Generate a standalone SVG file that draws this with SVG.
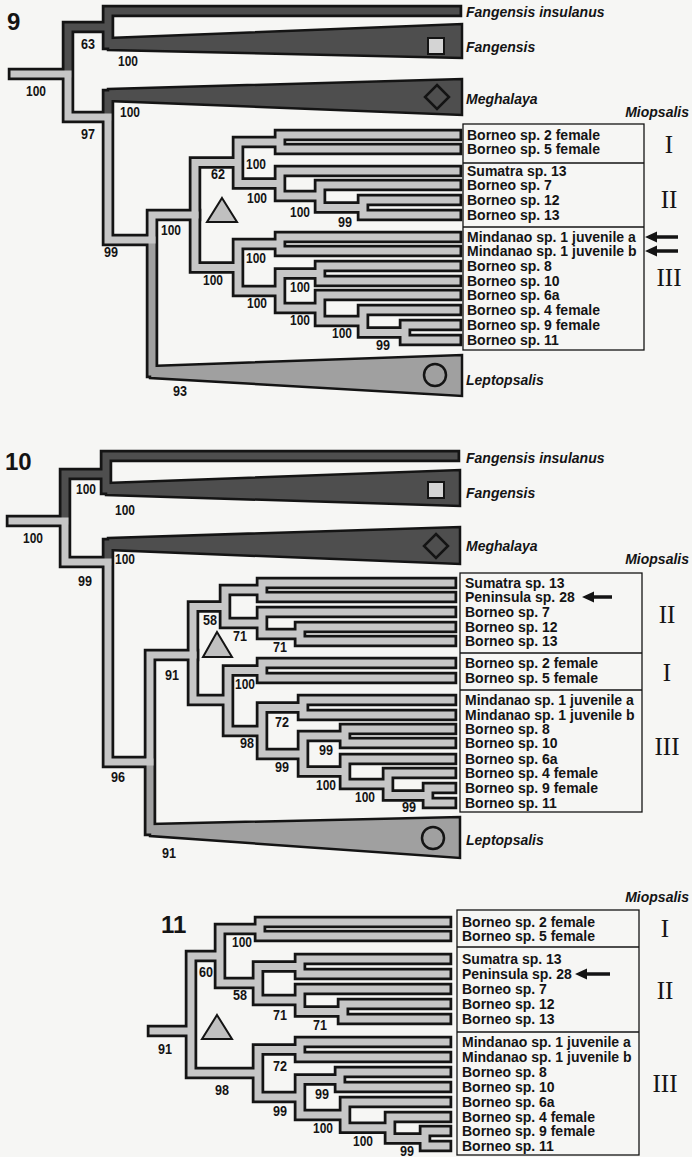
<svg xmlns="http://www.w3.org/2000/svg" width="692" height="1157" viewBox="0 0 692 1157">
<style>
.k{fill:none;stroke:#141414;stroke-width:12.5;stroke-linecap:square;stroke-linejoin:miter}
.l{fill:none;stroke:#c6c6c6;stroke-width:7;stroke-linecap:square;stroke-linejoin:miter}
.d{fill:none;stroke:#4e4e4e;stroke-width:7;stroke-linecap:square;stroke-linejoin:miter}
.m{fill:none;stroke:#a0a0a0;stroke-width:7;stroke-linecap:square;stroke-linejoin:miter}
.wd{fill:#4e4e4e;stroke:#141414;stroke-width:2.5;stroke-linejoin:miter}
.wm{fill:#a0a0a0;stroke:#141414;stroke-width:2.5;stroke-linejoin:miter}
.ic{fill:none;stroke:#141414;stroke-width:2.5}
.sq{fill:#d4d4d4;stroke:#141414;stroke-width:2}
.tri{fill:#c0c0c0;stroke:#141414;stroke-width:2;stroke-linejoin:miter}
.lf{font-family:'Liberation Sans',Arial,sans-serif;font-weight:bold;font-size:14px;fill:#141414}
.bs{font-family:'Liberation Sans',Arial,sans-serif;font-weight:bold;font-size:14.5px;fill:#141414;text-anchor:middle}
.tx{font-family:'Liberation Sans',Arial,sans-serif;font-weight:bold;font-style:italic;font-size:14px;fill:#141414}
.pn{font-family:'Liberation Sans',Arial,sans-serif;font-weight:bold;font-size:24px;fill:#141414}
.rn{font-family:'Liberation Serif','Times New Roman',serif;font-size:25px;fill:#141414;text-anchor:middle}
.box{fill:none;stroke:#141414;stroke-width:1.3}
.ar{fill:#141414}
</style>
<rect width="692" height="1157" fill="#f6f6f4"/>

<!-- ================= PANEL 9 ================= -->
<g id="panel9">
<text class="pn" x="7" y="30">9</text>
<g id="connectors-9">
<path class="k" d="M14,74 H68 M108,27 H68 V117 H108 M456,11 H108 V44 H130 M130,95 H108 V240 H152 M195,215 H152 V372 H175"/>
<path class="k" d="M238,162.5 H195 V267.5 H238 M280,142 H238 V183.5 H280 M456,135 H280 V149 H456 M456,171 H280 V196 H320 M456,185 H320 V207.5 H363 M456,200 H363 V215 H456 M280,244 H238 V291 H280 M456,237 H280 V251 H456 M320,273.5 H280 V308 H320 M456,266 H320 V281 H456 M456,295 H320 V321 H363 M456,310 H363 V332.5 H405 M456,325 H405 V340 H456"/>
<polygon class="wd" points="108,38 462,24 462,58 108,50"/>
<polygon class="wd" points="108,89 462,79 462,115 108,101"/>
<polygon class="wm" points="150,366 462,355 462,396 150,378"/>
<path class="d" d="M108,27 H68 V74 M456,11 H108 V44 H125 M125,95 H108 V117"/>
<path class="m" d="M152,240 V372 H172"/>
<path class="l" d="M14,74 H68 M68,74 V117 H108 M108,117 V240 H152 M195,215 H152 V240"/>
<path class="l" d="M238,162.5 H195 V267.5 H238 M280,142 H238 V183.5 H280 M456,135 H280 V149 H456 M456,171 H280 V196 H320 M456,185 H320 V207.5 H363 M456,200 H363 V215 H456 M280,244 H238 V291 H280 M456,237 H280 V251 H456 M320,273.5 H280 V308 H320 M456,266 H320 V281 H456 M456,295 H320 V321 H363 M456,310 H363 V332.5 H405 M456,325 H405 V340 H456"/>
</g>
<g id="icons-9">
<rect class="sq" x="428" y="38" width="16" height="16"/>
<path class="ic" d="M437,85 L449,97 L437,109 L425,97 Z"/>
<circle class="ic" cx="435" cy="375" r="11"/>
<polygon class="tri" points="222,198 237,222 207,222"/>
</g>
<g id="support-9">
<text class="bs" x="36" y="96" textLength="20" lengthAdjust="spacingAndGlyphs">100</text>
<text class="bs" x="88" y="49" textLength="14" lengthAdjust="spacingAndGlyphs">63</text>
<text class="bs" x="128" y="66" textLength="20" lengthAdjust="spacingAndGlyphs">100</text>
<text class="bs" x="88" y="139" textLength="14" lengthAdjust="spacingAndGlyphs">97</text>
<text class="bs" x="130" y="117" textLength="20" lengthAdjust="spacingAndGlyphs">100</text>
<text class="bs" x="218" y="179" textLength="14" lengthAdjust="spacingAndGlyphs">62</text>
<text class="bs" x="171" y="235" textLength="20" lengthAdjust="spacingAndGlyphs">100</text>
<text class="bs" x="256" y="169" textLength="20" lengthAdjust="spacingAndGlyphs">100</text>
<text class="bs" x="257" y="203" textLength="20" lengthAdjust="spacingAndGlyphs">100</text>
<text class="bs" x="300" y="217" textLength="20" lengthAdjust="spacingAndGlyphs">100</text>
<text class="bs" x="345" y="227" textLength="14" lengthAdjust="spacingAndGlyphs">99</text>
<text class="bs" x="256" y="263" textLength="20" lengthAdjust="spacingAndGlyphs">100</text>
<text class="bs" x="213" y="285" textLength="20" lengthAdjust="spacingAndGlyphs">100</text>
<text class="bs" x="300" y="292" textLength="20" lengthAdjust="spacingAndGlyphs">100</text>
<text class="bs" x="257" y="308" textLength="20" lengthAdjust="spacingAndGlyphs">100</text>
<text class="bs" x="300" y="325" textLength="20" lengthAdjust="spacingAndGlyphs">100</text>
<text class="bs" x="342" y="338" textLength="20" lengthAdjust="spacingAndGlyphs">100</text>
<text class="bs" x="383" y="350" textLength="14" lengthAdjust="spacingAndGlyphs">99</text>
<text class="bs" x="111" y="257" textLength="14" lengthAdjust="spacingAndGlyphs">99</text>
<text class="bs" x="180" y="396" textLength="14" lengthAdjust="spacingAndGlyphs">93</text>
</g>
<g id="taxa-9">
<text class="tx" x="466" y="17">Fangensis insulanus</text>
<text class="tx" x="466" y="52">Fangensis</text>
<text class="tx" x="466" y="104">Meghalaya</text>
<text class="tx" x="689" y="117" text-anchor="end">Miopsalis</text>
<text class="tx" x="466" y="385">Leptopsalis</text>
</g>
<g id="boxes-9">
<rect class="box" x="463" y="124" width="181" height="226"/>
<path class="box" d="M463,163 H644 M463,227 H644"/>
<text class="rn" x="669" y="153">I</text>
<text class="rn" x="669" y="208">II</text>
<text class="rn" x="669" y="286">III</text>
<path class="ar" d="M645,237 l12,-5.5 v3.8 h21 v3.4 h-21 v3.8 z"/>
<path class="ar" d="M645,251 l12,-5.5 v3.8 h21 v3.4 h-21 v3.8 z"/>
</g>
<g id="leaves-9" class="lf">
<text x="467" y="140">Borneo sp. 2 female</text>
<text x="467" y="154">Borneo sp. 5 female</text>
<text x="467" y="176">Sumatra sp. 13</text>
<text x="467" y="190">Borneo sp. 7</text>
<text x="467" y="205">Borneo sp. 12</text>
<text x="467" y="220">Borneo sp. 13</text>
<text x="467" y="242">Mindanao sp. 1 juvenile a</text>
<text x="467" y="256">Mindanao sp. 1 juvenile b</text>
<text x="467" y="271">Borneo sp. 8</text>
<text x="467" y="286">Borneo sp. 10</text>
<text x="467" y="300">Borneo sp. 6a</text>
<text x="467" y="315">Borneo sp. 4 female</text>
<text x="467" y="330">Borneo sp. 9 female</text>
<text x="467" y="345">Borneo sp. 11</text>
</g>
</g>

<!-- ================= PANEL 10 ================= -->
<g id="panel10">
<text class="pn" x="5" y="470">10</text>
<g id="connectors-10">
<path class="k" d="M12,521 H65 M106,474 H65 V562 H108 M454,456 H106 V489 H128 M130,544 H108 V762 H150 M193,655 H150 V830 H172"/>
<path class="k" d="M225,606.5 H193 V700 H228 M262,590 H225 V623 H262 M451,583 H262 V597 H451 M451,612 H262 V634 H300 M451,627 H300 V641 H451 M262,670.5 H228 V731 H262 M451,663 H262 V678 H451 M303,707.5 H262 V754 H303 M451,700 H303 V715 H451 M345,736 H303 V771.5 H345 M451,729 H345 V743 H451 M451,759 H345 V784 H388 M451,773 H388 V795.5 H428 M451,788 H428 V803 H451"/>
<polygon class="wd" points="106,483 460,470 460,506 106,495"/>
<polygon class="wd" points="108,538 460,527 460,564 108,550"/>
<polygon class="wm" points="150,824 460,817 460,858 150,836"/>
<path class="d" d="M106,474 H65 V521 M454,456 H106 V489 H123 M123,544 H108 V562"/>
<path class="m" d="M150,762 V830 H168"/>
<path class="l" d="M12,521 H65 M65,521 V562 H108 M108,562 V762 H150 M193,655 H150 V762"/>
<path class="l" d="M225,606.5 H193 V700 H228 M262,590 H225 V623 H262 M451,583 H262 V597 H451 M451,612 H262 V634 H300 M451,627 H300 V641 H451 M262,670.5 H228 V731 H262 M451,663 H262 V678 H451 M303,707.5 H262 V754 H303 M451,700 H303 V715 H451 M345,736 H303 V771.5 H345 M451,729 H345 V743 H451 M451,759 H345 V784 H388 M451,773 H388 V795.5 H428 M451,788 H428 V803 H451"/>
</g>
<g id="icons-10">
<rect class="sq" x="428" y="482" width="16" height="16"/>
<path class="ic" d="M436,534 L448,546 L436,558 L424,546 Z"/>
<circle class="ic" cx="433" cy="838" r="11"/>
<polygon class="tri" points="217,632 232,657 203,657"/>
</g>
<g id="support-10">
<text class="bs" x="33" y="543" textLength="20" lengthAdjust="spacingAndGlyphs">100</text>
<text class="bs" x="86" y="494" textLength="20" lengthAdjust="spacingAndGlyphs">100</text>
<text class="bs" x="125" y="515" textLength="20" lengthAdjust="spacingAndGlyphs">100</text>
<text class="bs" x="85" y="586" textLength="14" lengthAdjust="spacingAndGlyphs">99</text>
<text class="bs" x="125" y="564" textLength="20" lengthAdjust="spacingAndGlyphs">100</text>
<text class="bs" x="210" y="625" textLength="14" lengthAdjust="spacingAndGlyphs">58</text>
<text class="bs" x="240" y="641" textLength="14" lengthAdjust="spacingAndGlyphs">71</text>
<text class="bs" x="280" y="652" textLength="14" lengthAdjust="spacingAndGlyphs">71</text>
<text class="bs" x="172" y="680" textLength="14" lengthAdjust="spacingAndGlyphs">91</text>
<text class="bs" x="245" y="689" textLength="20" lengthAdjust="spacingAndGlyphs">100</text>
<text class="bs" x="282" y="727" textLength="14" lengthAdjust="spacingAndGlyphs">72</text>
<text class="bs" x="247" y="748" textLength="14" lengthAdjust="spacingAndGlyphs">98</text>
<text class="bs" x="326" y="755" textLength="14" lengthAdjust="spacingAndGlyphs">99</text>
<text class="bs" x="282" y="772" textLength="14" lengthAdjust="spacingAndGlyphs">99</text>
<text class="bs" x="326" y="790" textLength="20" lengthAdjust="spacingAndGlyphs">100</text>
<text class="bs" x="365" y="802" textLength="20" lengthAdjust="spacingAndGlyphs">100</text>
<text class="bs" x="409" y="812" textLength="14" lengthAdjust="spacingAndGlyphs">99</text>
<text class="bs" x="118" y="782" textLength="14" lengthAdjust="spacingAndGlyphs">96</text>
<text class="bs" x="169" y="858" textLength="14" lengthAdjust="spacingAndGlyphs">91</text>
</g>
<g id="taxa-10">
<text class="tx" x="466" y="463">Fangensis insulanus</text>
<text class="tx" x="466" y="498">Fangensis</text>
<text class="tx" x="466" y="551">Meghalaya</text>
<text class="tx" x="689" y="564" text-anchor="end">Miopsalis</text>
<text class="tx" x="466" y="845">Leptopsalis</text>
</g>
<g id="boxes-10">
<rect class="box" x="460" y="573" width="182" height="239"/>
<path class="box" d="M460,653 H642 M460,690 H642"/>
<text class="rn" x="667" y="623">II</text>
<text class="rn" x="667" y="681">I</text>
<text class="rn" x="667" y="755">III</text>
<path class="ar" d="M582,597 l12,-5.5 v3.8 h18 v3.4 h-18 v3.8 z"/>
</g>
<g id="leaves-10" class="lf">
<text x="465" y="588">Sumatra sp. 13</text>
<text x="465" y="602">Peninsula sp. 28</text>
<text x="465" y="617">Borneo sp. 7</text>
<text x="465" y="632">Borneo sp. 12</text>
<text x="465" y="646">Borneo sp. 13</text>
<text x="465" y="668">Borneo sp. 2 female</text>
<text x="465" y="683">Borneo sp. 5 female</text>
<text x="465" y="705">Mindanao sp. 1 juvenile a</text>
<text x="465" y="720">Mindanao sp. 1 juvenile b</text>
<text x="465" y="734">Borneo sp. 8</text>
<text x="465" y="748">Borneo sp. 10</text>
<text x="465" y="764">Borneo sp. 6a</text>
<text x="465" y="778">Borneo sp. 4 female</text>
<text x="465" y="793">Borneo sp. 9 female</text>
<text x="465" y="808">Borneo sp. 11</text>
</g>
</g>

<!-- ================= PANEL 11 ================= -->
<g id="panel11">
<text class="pn" x="161" y="933">11</text>
<g id="connectors-11">
<path class="k" d="M153,1031 H191 M220,956 H191 V1073 H258 M260,929 H220 V983 H258 M446,922 H260 V936 H446 M300,966.5 H258 V1000 H300 M446,959 H300 V974 H446 M446,989 H300 V1011.5 H343 M446,1004 H343 V1019 H446 M300,1049.5 H258 V1097 H300 M446,1042 H300 V1057 H446 M340,1079.5 H300 V1115 H345 M446,1072 H340 V1087 H446 M446,1102 H345 V1127.75 H390 M446,1117 H390 V1138.5 H425 M446,1131 H425 V1146 H446"/>
<path class="l" d="M153,1031 H191 M220,956 H191 V1073 H258 M260,929 H220 V983 H258 M446,922 H260 V936 H446 M300,966.5 H258 V1000 H300 M446,959 H300 V974 H446 M446,989 H300 V1011.5 H343 M446,1004 H343 V1019 H446 M300,1049.5 H258 V1097 H300 M446,1042 H300 V1057 H446 M340,1079.5 H300 V1115 H345 M446,1072 H340 V1087 H446 M446,1102 H345 V1127.75 H390 M446,1117 H390 V1138.5 H425 M446,1131 H425 V1146 H446"/>
</g>
<g id="icons-11">
<polygon class="tri" points="217,1015 232,1039 202,1039"/>
</g>
<g id="support-11">
<text class="bs" x="165" y="1054" textLength="14" lengthAdjust="spacingAndGlyphs">91</text>
<text class="bs" x="242" y="947" textLength="20" lengthAdjust="spacingAndGlyphs">100</text>
<text class="bs" x="206" y="977" textLength="14" lengthAdjust="spacingAndGlyphs">60</text>
<text class="bs" x="240" y="1000" textLength="14" lengthAdjust="spacingAndGlyphs">58</text>
<text class="bs" x="280" y="1020" textLength="14" lengthAdjust="spacingAndGlyphs">71</text>
<text class="bs" x="320" y="1030" textLength="14" lengthAdjust="spacingAndGlyphs">71</text>
<text class="bs" x="280" y="1071" textLength="14" lengthAdjust="spacingAndGlyphs">72</text>
<text class="bs" x="222" y="1095" textLength="14" lengthAdjust="spacingAndGlyphs">98</text>
<text class="bs" x="322" y="1099" textLength="14" lengthAdjust="spacingAndGlyphs">99</text>
<text class="bs" x="280" y="1116" textLength="14" lengthAdjust="spacingAndGlyphs">99</text>
<text class="bs" x="323" y="1133" textLength="20" lengthAdjust="spacingAndGlyphs">100</text>
<text class="bs" x="363" y="1146" textLength="20" lengthAdjust="spacingAndGlyphs">100</text>
<text class="bs" x="407" y="1156" textLength="14" lengthAdjust="spacingAndGlyphs">99</text>
</g>
<g id="taxa-11">
<text class="tx" x="689" y="902" text-anchor="end">Miopsalis</text>
</g>
<g id="boxes-11">
<rect class="box" x="457" y="910" width="182" height="245"/>
<path class="box" d="M457,947 H639 M457,1032 H639"/>
<text class="rn" x="665" y="936.5">I</text>
<text class="rn" x="665" y="999">II</text>
<text class="rn" x="665" y="1092">III</text>
<path class="ar" d="M575,974 l12,-5.5 v3.8 h23 v3.4 h-23 v3.8 z"/>
</g>
<g id="leaves-11" class="lf">
<text x="462" y="927">Borneo sp. 2 female</text>
<text x="462" y="941">Borneo sp. 5 female</text>
<text x="462" y="964">Sumatra sp. 13</text>
<text x="462" y="979">Peninsula sp. 28</text>
<text x="462" y="994">Borneo sp. 7</text>
<text x="462" y="1009">Borneo sp. 12</text>
<text x="462" y="1024">Borneo sp. 13</text>
<text x="462" y="1047">Mindanao sp. 1 juvenile a</text>
<text x="462" y="1062">Mindanao sp. 1 juvenile b</text>
<text x="462" y="1077">Borneo sp. 8</text>
<text x="462" y="1092">Borneo sp. 10</text>
<text x="462" y="1107">Borneo sp. 6a</text>
<text x="462" y="1122">Borneo sp. 4 female</text>
<text x="462" y="1136">Borneo sp. 9 female</text>
<text x="462" y="1151">Borneo sp. 11</text>
</g>
</g>
</svg>
